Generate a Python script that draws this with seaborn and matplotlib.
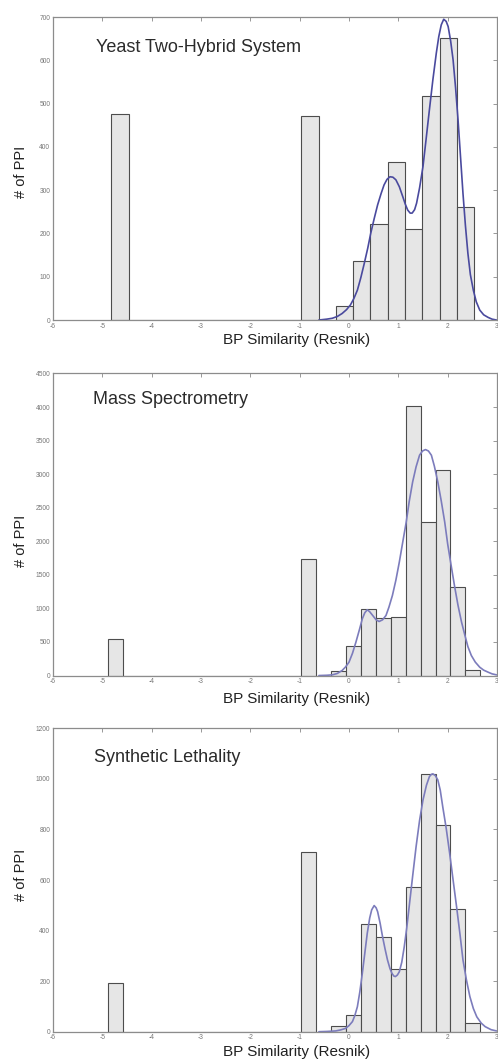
import numpy as np
import pandas as pd
import matplotlib
matplotlib.use("Agg")
import matplotlib.pyplot as plt
import seaborn as sns

# bin centres and counts
y2h_centers = [-4.64, -0.79, -0.12, 0.23, 0.59, 0.94, 1.30, 1.65, 2.00, 2.36]
y2h_counts = [476, 471, 33, 136, 223, 365, 210, 518, 651, 260]
y2h_width = 0.35

ms_centers = [-4.74, -0.82, -0.22, 0.085, 0.39, 0.69, 0.99, 1.30, 1.60, 1.90, 2.21, 2.51]
ms_counts = [545, 1740, 72, 445, 990, 857, 868, 4010, 2285, 3063, 1313, 89]
ms_width = 0.302

sl_centers = [-4.74, -0.82, -0.22, 0.085, 0.39, 0.69, 0.99, 1.30, 1.60, 1.90, 2.21, 2.51]
sl_counts = [194, 712, 22, 65, 426, 373, 249, 571, 1020, 819, 484, 36]
sl_width = 0.302

# fitted curves, points
y2h_fit_x = [-0.61, -0.45, -0.34, -0.24, -0.14, -0.05, 0.03, 0.10, 0.17, 0.24, 0.31, 0.38,
             0.44, 0.51, 0.58, 0.65, 0.71, 0.77, 0.83, 0.89, 0.95, 1.02, 1.09, 1.14,
             1.19, 1.24, 1.28, 1.33, 1.37, 1.43, 1.50, 1.56, 1.63, 1.70, 1.77, 1.82,
             1.87, 1.92, 1.97, 2.01, 2.06, 2.11, 2.16, 2.21, 2.26, 2.31, 2.36, 2.41,
             2.46, 2.52, 2.58, 2.65, 2.73, 2.82, 2.90, 2.99]
y2h_fit_y = [0, 2, 4, 8, 15, 24, 35, 50, 69, 98, 131, 166,
             200, 234, 266, 292, 312, 325, 331, 330, 324, 308, 285, 268,
             254, 247, 247, 255, 270, 305, 355, 415, 486, 555, 617, 655,
             682, 695, 690, 678, 645, 601, 537, 463, 378, 293, 218, 154,
             105, 69, 42, 23, 12, 6, 2, 0]

ms_fit_x = [-0.61, -0.45, -0.34, -0.24, -0.14, -0.07, 0.0, 0.07, 0.14, 0.21, 0.27, 0.32,
            0.37, 0.42, 0.48, 0.55, 0.61, 0.68, 0.75, 0.81, 0.88, 0.95, 1.02, 1.09,
            1.16, 1.22, 1.29, 1.36, 1.43, 1.49, 1.55, 1.61, 1.67, 1.73, 1.80, 1.87,
            1.94, 2.00, 2.07, 2.14, 2.21, 2.28, 2.35, 2.41, 2.48, 2.56, 2.65, 2.73,
            2.82, 2.90, 2.99]
ms_fit_y = [0, 4, 10, 30, 75, 128, 199, 330, 497, 680, 845, 935,
            980, 950, 895, 830, 805, 830, 895, 1020, 1193, 1420, 1690, 1990,
            2287, 2590, 2884, 3110, 3282, 3345, 3366, 3345, 3282, 3120, 2884, 2600,
            2287, 1960, 1641, 1330, 1044, 800, 597, 430, 298, 200, 124, 80,
            50, 25, 10]

sl_fit_x = [-0.61, -0.45, -0.27, -0.17, -0.07, 0.0, 0.07, 0.12, 0.17, 0.22, 0.27, 0.32,
            0.37, 0.42, 0.46, 0.51, 0.55, 0.58, 0.63, 0.68, 0.73, 0.78, 0.83, 0.87,
            0.91, 0.94, 0.98, 1.02, 1.07, 1.12, 1.17, 1.22, 1.29, 1.36, 1.43, 1.50,
            1.57, 1.63, 1.67, 1.70, 1.75, 1.80, 1.85, 1.90, 1.97, 2.04, 2.11, 2.18,
            2.25, 2.31, 2.38, 2.45, 2.52, 2.59, 2.68, 2.76, 2.88, 2.99]
sl_fit_y = [0, 1, 3, 7, 13, 24, 40, 65, 99, 158, 231, 310,
            389, 450, 482, 499, 490, 475, 430, 376, 328, 284, 250, 231,
            220, 218, 224, 237, 275, 336, 410, 495, 615, 732, 835, 917,
            975, 1009, 1018, 1020, 1013, 996, 955, 890, 805, 706, 600, 495,
            385, 284, 205, 139, 92, 59, 34, 20, 8, 3]

titles = ["Yeast Two-Hybrid System", "Mass Spectrometry", "Synthetic Lethality"]
x_ticks = list(range(-6, 4))

sns.set_style("white")
plt.rcParams["font.family"] = ["Liberation Sans", "DejaVu Sans"]
plt.rcParams["axes.unicode_minus"] = False

fig = plt.figure(figsize=(4.98, 10.6), dpi=100)

panels = [
    (y2h_centers, y2h_counts, y2h_width, y2h_fit_x, y2h_fit_y, 700, 100, "#4a4a9e"),
    (ms_centers, ms_counts, ms_width, ms_fit_x, ms_fit_y, 4500, 500, "#7c7cbc"),
    (sl_centers, sl_counts, sl_width, sl_fit_x, sl_fit_y, 1200, 200, "#7c7cbc"),
]
# axes boxes [left, bottom, width, height] in figure fraction
boxes = [[0.1064, 0.6981, 0.8916, 0.2858],
         [0.1064, 0.3627, 0.8916, 0.2850],
         [0.1064, 0.0267, 0.8916, 0.2862]]
title_pos = [(0.096, 0.90), (0.089, 0.915), (0.093, 0.903)]
xlab_y = [-20 / 303, -23.5 / 302, -20 / 303]
ylab_y = [0.488, 0.447, 0.517]

for i, (centers, counts, w, fx, fy, ymax, ystep, lc) in enumerate(panels):
    ax = fig.add_axes(boxes[i])
    n = int(round((centers[-1] - centers[0]) / w)) + 1
    edges = np.linspace(centers[0] - w / 2, centers[-1] + w / 2, n + 1)
    df = pd.DataFrame({"center": centers, "count": counts})
    sns.histplot(data=df, x="center", weights="count", bins=list(edges), ax=ax,
                 color="#e6e6e6", edgecolor="#4d4d4d", linewidth=0.8, alpha=1)
    sns.lineplot(x=fx, y=fy, ax=ax, color=lc, lw=1.2, sort=False, estimator=None)

    ax.set_xlim(-6, 3)
    ax.set_ylim(0, ymax)
    ax.set_xticks(x_ticks)
    ax.set_yticks(np.arange(0, ymax + 1, ystep))
    ax.tick_params(direction="in", top=True, right=True, length=3, width=0.6,
                   color="#888888", labelsize=4.8, labelcolor="#777777", pad=2)
    for s in ax.spines.values():
        s.set_color("#8c8c8c")
        s.set_linewidth(0.9)

    ax.text(title_pos[i][0], title_pos[i][1], titles[i], transform=ax.transAxes,
            fontsize=13, color="#2b2b2b", va="center", ha="left")

    ax.set_xlabel("BP Similarity (Resnik)", fontsize=11, color="#222222")
    ax.xaxis.label.set_va("center")
    ax.xaxis.set_label_coords(0.549, xlab_y[i])
    ax.set_ylabel("# of PPI", fontsize=10.5, color="#222222")
    ax.yaxis.label.set_va("center")
    ax.yaxis.set_label_coords(-0.072, ylab_y[i])

fig.savefig("out.png", dpi=100)
